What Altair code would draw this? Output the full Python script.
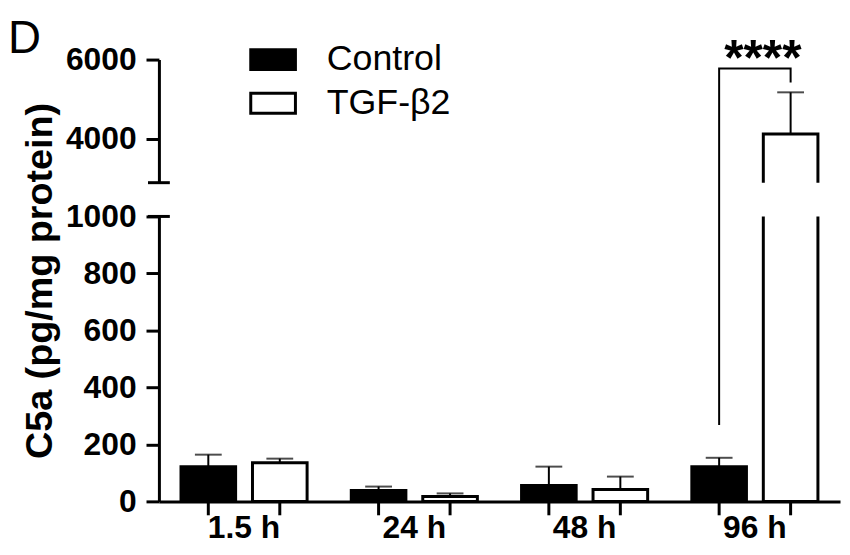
import altair as alt
import pandas as pd

# values (pg/mg protein)
groups = ["1.5 h", "24 h", "48 h", "96 h"]
series = ["Control", "TGF-β2"]
control_mean = [122, 38, 56, 122]
control_upper = [164, 52, 122, 153]
tgf_mean = [136, 17, 42, 4125]
tgf_upper = [150, 28, 87, 5175]

y_ticks = [0, 200, 400, 600, 800, 1000, 4000, 6000]
break_low = 1000   # top of lower segment
break_high = 2900  # bottom of upper segment
y_max = 6000

# significance bracket at 96 h
sig_y = [268, 5775, 5775, 5425]
sig_group = ["Control", "Control", "TGF-β2", "TGF-β2"]
sig_text = "****"

W, H = 686, 445
FONT = "Liberation Sans"

rows = []
for i, g in enumerate(groups):
    rows.append({"time": g, "group": series[0], "mean": control_mean[i], "upper": control_upper[i]})
    rows.append({"time": g, "group": series[1], "mean": tgf_mean[i], "upper": tgf_upper[i]})
df = pd.DataFrame(rows)

sig = pd.DataFrame({"time": ["96 h"] * 4, "group": sig_group, "mean": sig_y, "order": [0, 1, 2, 3]})

# piecewise scale -> broken axis, the gap gets covered below
yscale = alt.Scale(domain=[0, break_low, break_high, y_max], range=[H, 158, 124, 0])

x_enc = alt.X("time:N", scale=alt.Scale(domain=groups, paddingInner=0, paddingOuter=0),
              axis=alt.Axis(title=None, ticks=False, labelAngle=0, labelPadding=11,
                            labelFontSize=32, labelFontWeight="bold", labelFont=FONT,
                            labelColor="black", domainWidth=3, domainColor="black"))
xo_enc = alt.XOffset("group:N", scale=alt.Scale(domain=series, paddingInner=0.236, paddingOuter=0.309))

base = alt.Chart(df).encode(x=x_enc, xOffset=xo_enc)

bars = base.mark_bar(stroke="black", strokeWidth=3).encode(
    y=alt.Y("mean:Q", scale=yscale,
            axis=alt.Axis(values=y_ticks, format="d", title="C5a (pg/mg protein)",
                          titleFontSize=38, titleFontWeight="bold", titleFont=FONT, titlePadding=6,
                          titleColor="black", labelFontSize=32, labelFontWeight="bold", labelFont=FONT,
                          labelColor="black", labelPadding=10, tickSize=13, tickWidth=3,
                          tickColor="black", domainWidth=3, domainColor="black", grid=False)),
    fill=alt.Fill("group:N", scale=alt.Scale(domain=series, range=["black", "white"]),
                  legend=alt.Legend(title=None, orient="none", legendX=97, legendY=-18,
                                    symbolType="M-2.25,-1H2.25V1H-2.25Z", symbolSize=400,
                                    symbolStrokeColor="black", symbolStrokeWidth=3,
                                    labelFontSize=36, labelFont=FONT, labelColor="black",
                                    labelOffset=36, rowPadding=8, padding=0, labelLimit=0)),
)

err = base.mark_rule(color="black", strokeWidth=2).encode(y="mean:Q", y2="upper:Q")
caps = base.mark_tick(color="black", thickness=2, size=27, orient="horizontal").encode(y="upper:Q")
xticks = base.mark_rule(color="black", strokeWidth=3).encode(y=alt.value(H), y2=alt.value(H + 14))

one = pd.DataFrame({"k": [0]})
gap = alt.Chart(one).mark_rect(color="white").encode(
    y=alt.datum(break_low), y2=alt.datum(break_high), x=alt.value(-5), x2=alt.value(W + 5))
cap_lo = alt.Chart(one).mark_rule(color="black", strokeWidth=3).encode(
    y=alt.datum(break_low), x=alt.value(-11), x2=alt.value(11))
cap_hi = alt.Chart(one).mark_rule(color="black", strokeWidth=3).encode(
    y=alt.datum(break_high), x=alt.value(-11), x2=alt.value(11))

bracket = alt.Chart(sig).mark_line(color="black", strokeWidth=2).encode(
    x=x_enc, xOffset=xo_enc, y="mean:Q", order="order:O")
stars = alt.Chart(sig.iloc[[1]]).mark_text(
    text=sig_text, fontSize=50, fontWeight="bold", font=FONT, baseline="alphabetic", dy=7, dx=8,
    color="black"
).encode(x=x_enc, y="mean:Q")

# panel letter
letter = alt.Chart(one).mark_text(
    text="D", fontSize=46, font=FONT, align="left", baseline="alphabetic", color="black"
).encode(x=alt.value(-152), y=alt.value(-7))

chart = alt.layer(bars, err, caps, xticks, gap, cap_lo, cap_hi, bracket, stars, letter).properties(
    width=W, height=H,
    autosize=alt.AutoSizeParams(type="none"),
    padding={"left": 152, "top": 50, "right": 2, "bottom": 44},
).configure_view(stroke=None)

chart.save("out.html", embed_options={"renderer": "svg", "actions": False})
